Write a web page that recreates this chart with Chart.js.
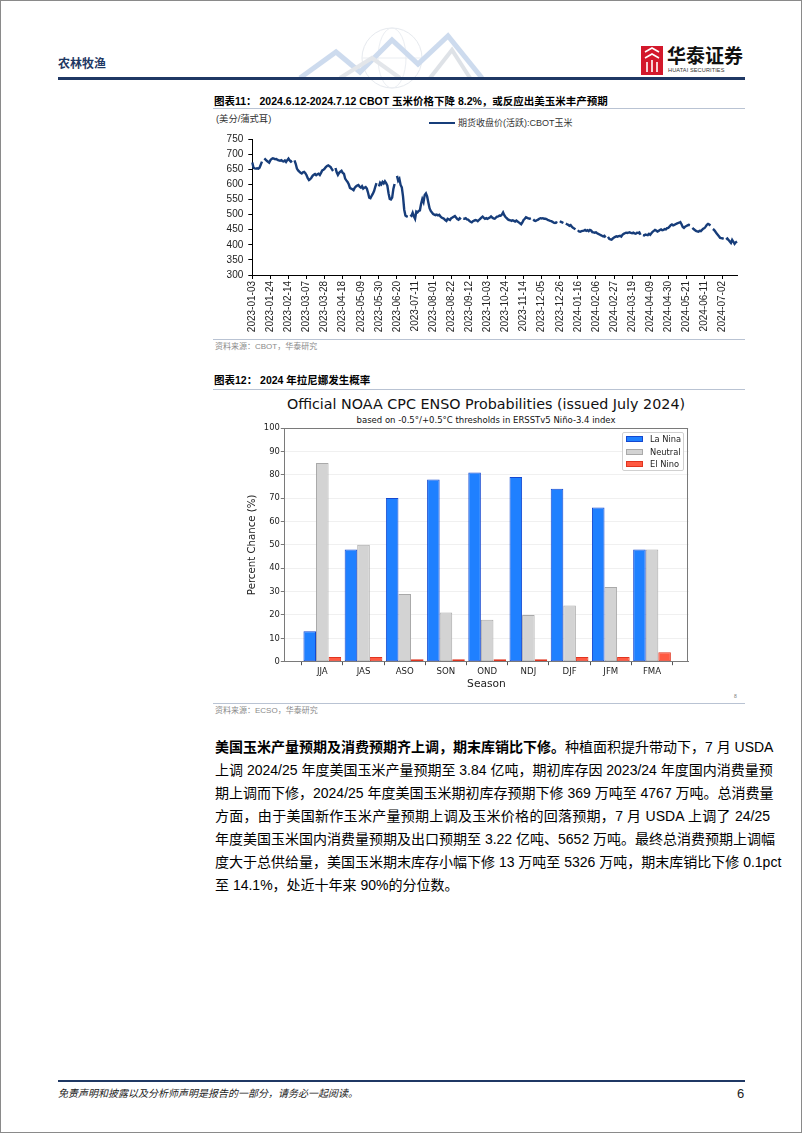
<!DOCTYPE html>
<html>
<head>
<meta charset="utf-8">
<script src="https://cdn.jsdelivr.net/npm/chart.js@4.4.1/dist/chart.umd.min.js"></script>
<style>
html,body{margin:0;padding:0;background:#fff;}
#page{position:relative;width:802px;height:1133px;overflow:hidden;background:#fff;font-family:"Liberation Sans","Noto Sans CJK SC",sans-serif;color:#000;}
.abs{position:absolute;white-space:nowrap;}
.frame{position:absolute;left:0;top:0;width:802px;height:1133px;box-sizing:border-box;border:1px solid #8a8a8a;pointer-events:none;}
.ctitle{font-size:10.5px;font-weight:700;line-height:14px;}
.src{font-size:8px;color:#8a8a8a;line-height:12px;}
.sep{position:absolute;height:1px;background:#b9c3d3;}
.pl{position:absolute;left:215px;width:555px;white-space:nowrap;font-size:14px;line-height:20px;text-align:justify;text-align-last:justify;}
.lg{position:absolute;font-family:"DejaVu Sans",sans-serif;font-size:8.3px;line-height:10px;color:#222;white-space:nowrap;}
.lp{position:absolute;width:17px;height:6px;box-sizing:border-box;}
canvas{position:absolute;}
</style>
</head>
<body>
<div id="page">
  <!-- header decoration -->
  <svg class="abs" style="left:0;top:0" width="802" height="90">
    <g fill="none" opacity="0.5">
      <circle cx="392" cy="58" r="30" stroke="#cfd6e0" stroke-width="1"/>
      <ellipse cx="392" cy="58" rx="14" ry="30" stroke="#d8dee7" stroke-width="1"/>
      <line x1="362" y1="58" x2="422" y2="58" stroke="#d8dee7"/>
      <polyline points="300,78 336,52 360,72 392,40 418,64 448,36 482,78" stroke="#9db8de" stroke-width="5"/>
      <polyline points="340,78 372,58 400,78" stroke="#c9ced6" stroke-width="4"/>
      <polyline points="430,78 452,50 470,78" stroke="#bfc6d1" stroke-width="4"/>
    </g>
  </svg>
  <div class="abs" style="left:58px;top:55px;font-size:12px;line-height:16px;font-weight:700;color:#1f3864;font-family:'Noto Sans CJK SC';">农林牧渔</div>
  <!-- logo -->
  <div class="abs" style="left:641px;top:46px;width:22px;height:29px;background:#d3182b;"></div>
  <svg class="abs" style="left:641px;top:46px" width="22" height="29">
    <path d="M4 6 L11 2 L18 6 M4 12 L11 8 L18 12 M6 16 V26 M11 14 V26 M16 16 V26" stroke="#fff" stroke-width="1.6" fill="none"/>
  </svg>
  <div class="abs" style="left:667px;top:44px;font-size:19px;line-height:22px;font-weight:700;color:#111;font-family:'Noto Sans CJK SC';">华泰证券</div>
  <div class="abs" style="left:668px;top:67px;font-size:5.6px;line-height:7px;color:#333;letter-spacing:0.1px;">HUATAI SECURITIES</div>
  <div class="abs" style="left:58px;top:77px;width:687px;height:3px;background:#1f3864;"></div>

  <!-- chart 11 heading -->
  <div class="abs ctitle" style="left:214px;top:94px;">图表11：&nbsp;2024.6.12-2024.7.12 CBOT 玉米价格下降 8.2%，或反应出美玉米丰产预期</div>
  <div class="sep" style="left:213px;top:108px;width:532px;"></div>
  <div class="abs" style="left:216px;top:113px;font-size:9.3px;line-height:13px;color:#333;">(美分/蒲式耳)</div>
  <div class="abs" style="left:429px;top:122px;width:26px;height:2px;background:#173d7a;"></div>
  <div class="abs" style="left:458px;top:117px;font-size:9px;line-height:12px;color:#333;">期货收盘价(活跃):CBOT玉米</div>
  <canvas id="c1" width="560" height="207" style="left:200px;top:128px;width:560px;height:207px;"></canvas>
  <div class="sep" style="left:213px;top:339px;width:532px;"></div>
  <div class="abs src" style="left:215px;top:341px;">资料来源：CBOT，华泰研究</div>

  <!-- chart 12 heading -->
  <div class="abs ctitle" style="left:214px;top:373px;">图表12：&nbsp;2024 年拉尼娜发生概率</div>
  <div class="sep" style="left:213px;top:389px;width:532px;"></div>
  <div class="abs" style="left:276px;top:395px;width:420px;text-align:center;font-family:'DejaVu Sans';font-size:14.3px;line-height:18px;color:#111;">Official NOAA CPC ENSO Probabilities (issued July 2024)</div>
  <div class="abs" style="left:286px;top:415px;width:400px;text-align:center;font-family:'DejaVu Sans';font-size:8.5px;line-height:11px;color:#111;">based on -0.5°/+0.5°C thresholds in ERSSTv5 Niño-3.4 index</div>
  <canvas id="c2" width="504" height="296" style="left:246px;top:395px;width:504px;height:296px;"></canvas>
  <!-- legend -->
  <div class="abs" style="left:622px;top:432px;width:62px;height:39px;box-sizing:border-box;border:1px solid #d0d0d0;border-radius:2px;background:rgba(255,255,255,0.9);"></div>
  <div class="lp" style="left:626px;top:436px;background:#1f80ff;border:1px solid #1448d0;"></div>
  <div class="lg" style="left:650px;top:434px;">La Nina</div>
  <div class="lp" style="left:626px;top:448.7px;background:#d3d3d3;border:1px solid #a9a9a9;"></div>
  <div class="lg" style="left:650px;top:446.7px;">Neutral</div>
  <div class="lp" style="left:626px;top:461.3px;background:#ff5a42;border:1px solid #e0341f;"></div>
  <div class="lg" style="left:650px;top:459.3px;">El Nino</div>
  <div class="abs" style="left:734px;top:693px;font-size:5px;line-height:6px;color:#777;">8</div>
  <div class="sep" style="left:213px;top:703px;width:532px;"></div>
  <div class="abs src" style="left:215px;top:705px;">资料来源：ECSO，华泰研究</div>

  <!-- paragraph -->
  <div class="pl" style="top:737px;"><b>美国玉米产量预期及消费预期齐上调，期末库销比下修。</b>种植面积提升带动下，7 月 USDA</div>
  <div class="pl" style="top:760px;">上调 2024/25 年度美国玉米产量预期至 3.84 亿吨，期初库存因 2023/24 年度国内消费量预</div>
  <div class="pl" style="top:783px;">期上调而下修，2024/25 年度美国玉米期初库存预期下修 369 万吨至 4767 万吨。总消费量</div>
  <div class="pl" style="top:806px;">方面，由于美国新作玉米产量预期上调及玉米价格的回落预期，7 月 USDA 上调了 24/25</div>
  <div class="pl" style="top:829px;">年度美国玉米国内消费量预期及出口预期至 3.22 亿吨、5652 万吨。最终总消费预期上调幅</div>
  <div class="pl" style="top:852px;">度大于总供给量，美国玉米期末库存小幅下修 13 万吨至 5326 万吨，期末库销比下修 0.1pct</div>
  <div class="pl" style="top:875px;text-align:left;text-align-last:left;">至 14.1%，处近十年来 90%的分位数。</div>

  <!-- footer -->
  <div class="abs" style="left:58px;top:1080px;width:687px;height:2px;background:#1f3864;"></div>
  <div class="abs" style="left:58px;top:1087px;font-size:10px;line-height:14px;font-style:italic;color:#222;">免责声明和披露以及分析师声明是报告的一部分，请务必一起阅读。</div>
  <div class="abs" style="left:737px;top:1086px;font-size:13px;line-height:16px;color:#222;">6</div>
  <div class="frame"></div>
</div>

<script>
// ===== Chart 11 data: CBOT corn active-contract close (US cents / bushel), weekdays from 2023-01-03; null = no trading =====
const cornPrice = [
  672,655,653,652,653,652,655,665,675,null,686,682,678,675,672,
  680,684,686,685,683,684,681,679,678,680,677,676,679,674,680,
  685,679,675,678,null,679,668,652,646,642,638,636,640,641,637,
  630,620,614,617,622,628,632,634,630,633,635,631,638,646,648,
  652,657,661,663,660,657,650,644,null,654,640,631,638,642,645,
  638,635,619,613,608,600,588,586,584,581,589,593,596,598,592,
  589,594,586,589,591,586,572,556,554,562,569,578,592,604,null,
  593,605,600,608,603,610,604,596,570,552,550,556,585,601,null,
  628,612,618,598,590,560,516,497,494,495,null,499,496,506,494,
  486,510,507,512,514,536,551,541,565,570,560,540,521,512,507,
  502,500,498,500,497,499,494,490,488,486,482,479,486,484,482,
  488,490,493,495,490,485,483,488,484,null,487,486,488,484,483,
  479,476,474,478,480,482,481,478,482,486,490,493,489,486,488,
  486,488,490,494,490,487,486,490,493,494,497,496,500,507,498,
  492,488,484,482,481,479,481,479,477,480,477,474,471,468,474,
  482,486,491,489,487,486,488,null,484,480,479,481,483,486,488,
  487,488,486,486,485,482,481,479,478,476,473,472,474,472,null,
  478,476,474,472,null,470,468,466,463,465,460,456,454,451,null,
  448,444,443,445,446,447,449,446,448,445,449,447,442,441,440,
  441,438,436,434,432,430,428,430,424,null,426,420,418,417,421,
  424,426,428,427,429,430,427,433,436,438,440,439,440,441,439,
  438,440,438,437,440,439,441,433,null,432,431,434,433,432,436,
  433,438,443,446,449,447,444,446,449,451,448,449,452,451,455,
  456,460,465,467,464,466,468,470,472,473,475,468,459,456,460,
  462,464,466,465,null,456,452,449,446,444,443,446,445,449,453,
  455,460,466,469,467,464,null,452,449,444,438,433,428,423,422,
  421,422,null,417,421,416,411,406,416,410,403,408,411
];
const dateTicks = ['2023-01-03','2023-01-24','2023-02-14','2023-03-07','2023-03-28','2023-04-18','2023-05-09','2023-05-30','2023-06-20','2023-07-11','2023-08-01','2023-08-22','2023-09-12','2023-10-03','2023-10-24','2023-11-14','2023-12-05','2023-12-26','2024-01-16','2024-02-06','2024-02-27','2024-03-19','2024-04-09','2024-04-30','2024-05-21','2024-06-11','2024-07-02'];
const priceTicks = [300,350,400,450,500,550,600,650,700,750];

// weekday calendar categories
const dates = [];
(function(){
  const d = new Date(Date.UTC(2023,0,3));
  while (dates.length < cornPrice.length) {
    const wd = d.getUTCDay();
    if (wd !== 0 && wd !== 6) dates.push(d.toISOString().slice(0,10));
    d.setUTCDate(d.getUTCDate()+1);
  }
})();
const tickSet = new Set(dateTicks);

// ===== Chart 12 data =====
const seasons = ['JJA','JAS','ASO','SON','OND','NDJ','DJF','JFM','FMA'];
const laNina  = [13,48,70,78,81,79,74,66,48];
const neutral = [85,50,29,21,18,20,24,32,48];
const elNino  = [2,2,1,1,1,1,2,2,4];
const pctTicks = [0,10,20,30,40,50,60,70,80,90,100];

Chart.defaults.animation = false;

new Chart(document.getElementById('c1'), {
  type: 'line',
  data: {
    labels: dates,
    datasets: [{
      label: '期货收盘价(活跃):CBOT玉米',
      data: cornPrice,
      borderColor: '#173d7a',
      borderWidth: 2.4,
      pointRadius: 0,
      tension: 0,
      spanGaps: false
    }]
  },
  options: {
    responsive: false,
    animation: false,
    layout: { padding: { top: 7.7, right: 23, left: 0, bottom: 0 } },
    plugins: { legend: { display: false }, tooltip: { enabled: false } },
    scales: {
      x: {
        type: 'category',
        offset: false,
        grid: { display: true, drawOnChartArea: false, drawTicks: true, tickLength: 4, color: '#000' },
        border: { display: true, color: '#000', width: 1 },
        ticks: {
          autoSkip: false, minRotation: 90, maxRotation: 90, padding: 2,
          font: { family: 'Liberation Sans', size: 10 }, color: '#222',
          callback: function(v, i) { return tickSet.has(dates[i]) ? dates[i] : null; }
        },
        afterFit: function(s) { s.height = 60; }
      },
      y: {
        min: 300, max: 750,
        afterBuildTicks: function(s) { s.ticks = priceTicks.map(v => ({ value: v })); },
        grid: { display: true, drawOnChartArea: false, drawTicks: true, tickLength: 4, color: '#000' },
        border: { display: true, color: '#000', width: 1 },
        ticks: { padding: 5, font: { family: 'Liberation Sans', size: 10 }, color: '#222' },
        afterFit: function(s) { s.width = 52.3; }
      }
    }
  }
});

const frame = {
  id: 'frame',
  afterDatasetsDraw(chart) {
    const a = chart.chartArea, c = chart.ctx;
    c.save();
    c.strokeStyle = '#7a7a7a';
    c.lineWidth = 1;
    c.strokeRect(Math.round(a.left) + 0.5, Math.round(a.top) + 0.5, Math.round(a.right - a.left) - 1, Math.round(a.bottom - a.top) - 1);
    c.restore();
  }
};

const toXY = arr => arr.map((v, i) => ({ x: i, y: v }));
new Chart(document.getElementById('c2'), {
  type: 'bar',
  data: {
    datasets: [
      { label: 'La Nina', data: toXY(laNina), backgroundColor: '#1f80ff', borderColor: '#1448d0', borderWidth: 1, borderSkipped: false },
      { label: 'Neutral', data: toXY(neutral), backgroundColor: '#d3d3d3', borderColor: '#a9a9a9', borderWidth: 1, borderSkipped: false },
      { label: 'El Nino', data: toXY(elNino), backgroundColor: '#ff5a42', borderColor: '#e0341f', borderWidth: 1, borderSkipped: false }
    ]
  },
  options: {
    responsive: false,
    animation: false,
    layout: { padding: { top: 33, right: 61.3, left: 0, bottom: 0 } },
    datasets: { bar: { categoryPercentage: 0.915, barPercentage: 1 } },
    plugins: { legend: { display: false }, tooltip: { enabled: false } },
    scales: {
      x: {
        type: 'linear', min: -0.922, max: 8.89, offset: false,
        afterBuildTicks: function(s) { s.ticks = seasons.map((n, i) => ({ value: i })); },
        grid: { display: true, drawOnChartArea: false, drawTicks: true, tickLength: 3.5, color: '#555' },
        border: { display: true, color: '#7a7a7a' },
        ticks: { autoSkip: false, maxRotation: 0, padding: 1, font: { family: 'DejaVu Sans', size: 8.6 }, color: '#222',
                 callback: function(v) { return seasons[v]; } },
        title: { display: true, text: 'Season', font: { family: 'DejaVu Sans', size: 10.7 }, color: '#222', padding: 0 },
        afterFit: function(s) { s.height = 29.3; }
      },
      y: {
        min: 0, max: 100,
        afterBuildTicks: function(s) { s.ticks = pctTicks.map(v => ({ value: v })); },
        grid: { display: true, color: '#ececec', lineWidth: 0.8, tickColor: '#555', tickLength: 3.5 },
        border: { display: true, color: '#7a7a7a' },
        ticks: { padding: 1, font: { family: 'DejaVu Sans', size: 8.4 }, color: '#222' },
        title: { display: true, text: 'Percent Chance (%)', font: { family: 'DejaVu Sans', size: 10.2 }, color: '#222', padding: 0 },
        afterFit: function(s) { s.width = 38.3; }
      }
    }
  },
  plugins: [frame]
});
</script>
</body>
</html>
